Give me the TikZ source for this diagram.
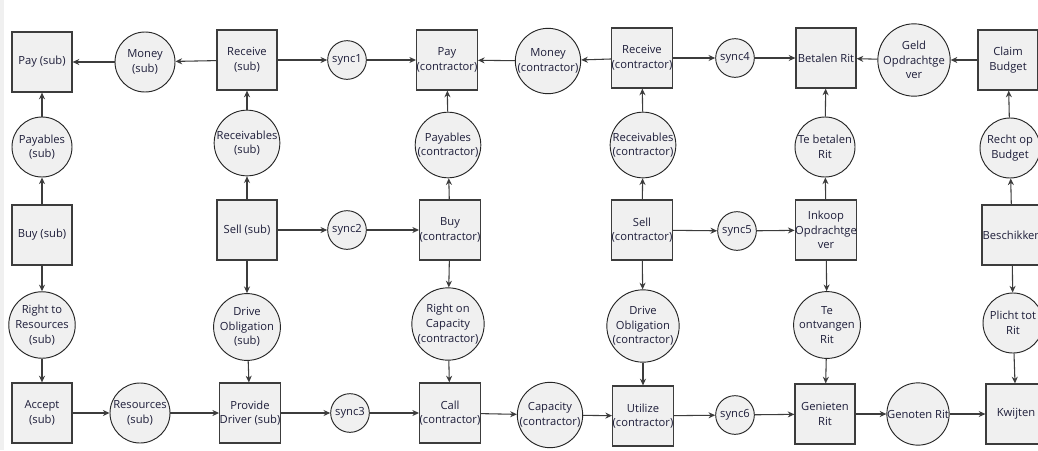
\documentclass[tikz,border=0pt]{standalone}
\usepackage{fontspec}
\setmainfont{Open Sans}
\usetikzlibrary{arrows.meta}
\definecolor{fillg}{HTML}{F0F0F0}
\definecolor{lineg}{HTML}{3C3C3C}
\definecolor{txt}{HTML}{1E1E3A}
\tikzset{
  boxn/.style={draw=lineg, line width=0.9pt, fill=fillg, minimum width=45pt, minimum height=45pt, inner sep=0pt, align=center, text=txt, font=\fontsize{8.4}{11}\selectfont},
  circn/.style={circle, draw=black!85, line width=0.7pt, fill=fillg, minimum size=45pt, inner sep=0pt, align=center, text=txt, font=\fontsize{8.4}{11}\selectfont},
  syncn/.style={circle, draw=black!85, line width=0.7pt, fill=fillg, minimum size=29pt, inner sep=0pt, align=center, text=txt, font=\fontsize{8.4}{11}\selectfont},
  conn/.style={draw=lineg, line width=0.8pt, -{Stealth[length=5pt,width=4.5pt]}}
}
\begin{document}
\begin{tikzpicture}[x=0.75pt,y=-0.75pt]
\clip (0,0) rectangle (1038,450);
\fill[white] (0,0) rectangle (1038,450);
\fill[fillg] (0,0) rectangle (4,450);
% row 1
\node[boxn] (paysub) at (42,62) {Pay (sub)};
\node[circn] (moneysub) at (145,62) {Money\\(sub)};
\node[boxn] (recvsub) at (247,60) {Receive\\(sub)};
\node[syncn] (sync1) at (347,60) {sync1};
\node[boxn] (payc) at (447,60) {Pay\\(contractor)};
\node[circn] (moneyc) at (548,61) {Money\\(contractor)};
\node[boxn] (recvc) at (642,58) {Receive\\(contractor)};
\node[syncn] (sync4) at (735,58) {sync4};
\node[boxn] (betalen) at (826,58) {Betalen Rit};
\node[circn] (geld) at (914,60) {Geld\\Opdrachtge\\ver};
\node[boxn] (claim) at (1008,60) {Claim\\Budget};
% row 2
\node[circn] (payablessub) at (42,147) {Payables\\(sub)};
\node[circn] (receivsub) at (247,143) {Receivables\\(sub)};
\node[circn] (payablesc) at (448,145) {Payables\\(contractor)};
\node[circn] (receivc) at (643,145) {Receivables\\(contractor)};
\node[circn] (tebetalen) at (825,147) {Te betalen\\Rit};
\node[circn] (rechtop) at (1010,148) {Recht op\\Budget};
% row 3
\node[boxn] (buysub) at (42,235) {Buy (sub)};
\node[boxn] (sellsub) at (247,230) {Sell (sub)};
\node[syncn] (sync2) at (347,230) {sync2};
\node[boxn] (buyc) at (450,230) {Buy\\(contractor)};
\node[boxn] (sellc) at (642,230) {Sell\\(contractor)};
\node[syncn] (sync5) at (737,231) {sync5};
\node[boxn] (inkoop) at (826,230) {Inkoop\\Opdrachtge\\ver};
\node[boxn] (beschik) at (1012,235) {Beschikken};
% row 4
\node[circn] (righttores) at (42,325) {Right to\\Resources\\(sub)};
\node[circn] (drivesub) at (247,327) {Drive\\Obligation\\(sub)};
\node[circn] (rightcap) at (448,324) {Right on\\Capacity\\(contractor)};
\node[circn] (drivec) at (643,326) {Drive\\Obligation\\(contractor)};
\node[circn] (teontv) at (827,325) {Te\\ontvangen\\Rit};
\node[circn] (plicht) at (1013,323) {Plicht tot\\Rit};
% row 5
\node[boxn] (accept) at (42,413) {Accept\\(sub)};
\node[circn] (ressub) at (140,413) {Resources\\(sub)};
\node[boxn] (provide) at (250,413) {Provide\\Driver (sub)};
\node[syncn] (sync3) at (350,413) {sync3};
\node[boxn] (call) at (450,413) {Call\\(contractor)};
\node[circn] (capc) at (550,415) {Capacity\\(contractor)};
\node[boxn] (utilize) at (643,416) {Utilize\\(contractor)};
\node[syncn] (sync6) at (735,415) {sync6};
\node[boxn] (genieten) at (825,414) {Genieten\\Rit};
\node[circn] (genoten) at (918,414) {Genoten Rit};
\node[boxn] (kwijten) at (1016,414) {Kwijten};
% row 1 edges
\draw[conn] (moneysub) -- (paysub);
\draw[conn] (recvsub) -- (moneysub);
\draw[conn] (recvsub) -- (sync1);
\draw[conn] (sync1) -- (payc);
\draw[conn] (moneyc) -- (payc);
\draw[conn] (recvc) -- (moneyc);
\draw[conn] (recvc) -- (sync4);
\draw[conn] (sync4) -- (betalen);
\draw[conn] (geld) -- (betalen);
\draw[conn] (claim) -- (geld);
% up edges
\draw[conn] (payablessub) -- (paysub);
\draw[conn] (buysub) -- (payablessub);
\draw[conn] (receivsub) -- (recvsub);
\draw[conn] (sellsub) -- (receivsub);
\draw[conn] (payablesc) -- (payc);
\draw[conn] (buyc) -- (payablesc);
\draw[conn] (receivc) -- (recvc);
\draw[conn] (sellc) -- (receivc);
\draw[conn] (tebetalen) -- (betalen);
\draw[conn] (inkoop) -- (tebetalen);
\draw[conn] (rechtop) -- (claim);
\draw[conn] (beschik) -- (rechtop);
% row 3 edges
\draw[conn] (sellsub) -- (sync2);
\draw[conn] (sync2) -- (buyc);
\draw[conn] (sellc) -- (sync5);
\draw[conn] (sync5) -- (inkoop);
% down edges
\draw[conn] (buysub) -- (righttores);
\draw[conn] (righttores) -- (accept);
\draw[conn] (sellsub) -- (drivesub);
\draw[conn] (drivesub) -- (provide);
\draw[conn] (buyc) -- (rightcap);
\draw[conn] (rightcap) -- (call);
\draw[conn] (sellc) -- (drivec);
\draw[conn] (drivec) -- (utilize);
\draw[conn] (inkoop) -- (teontv);
\draw[conn] (teontv) -- (genieten);
\draw[conn] (beschik) -- (plicht);
\draw[conn] (plicht) -- (kwijten);
% row 5 edges
\draw[conn] (accept) -- (ressub);
\draw[conn] (ressub) -- (provide);
\draw[conn] (provide) -- (sync3);
\draw[conn] (sync3) -- (call);
\draw[conn] (call) -- (capc);
\draw[conn] (capc) -- (utilize);
\draw[conn] (utilize) -- (sync6);
\draw[conn] (sync6) -- (genieten);
\draw[conn] (genieten) -- (genoten);
\draw[conn] (genoten) -- (kwijten);
\end{tikzpicture}
\end{document}
